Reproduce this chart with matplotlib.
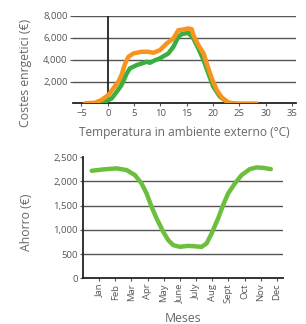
#!/usr/bin/env python
# -*- coding: utf-8 -*-

# Energy cost vs outdoor temperature, and monthly savings

import matplotlib
matplotlib.use('Agg')
import matplotlib.pyplot as plt

plt.rcParams['font.family'] = ['Open Sans', 'DejaVu Sans']

# -----------------------------------------------------------------------------------------------------
# Data
# -----------------------------------------------------------------------------------------------------

# top chart: costs vs temperature
temp_orange = [-4.3, -2.4, -1.2, 0.1, 1.05, 2.0, 2.6, 3.3, 3.9, 4.85, 6.4, 7.7, 8.65, 9.9, 11.2,
               12.45, 13.4, 14.35, 15.3, 15.95, 16.25, 17.2, 18.2, 18.8, 19.75, 20.7, 21.65,
               22.9, 24.2, 26.0, 28.2]
cost_orange = [20, 70, 320, 770, 1380, 1980, 2590, 3650, 4250, 4560, 4710, 4710, 4620, 4860, 5470,
               5930, 6680, 6740, 6840, 6760, 6230, 5320, 4560, 3650, 2290, 1230, 560,
               70, 0, 0, 0]

temp_green = [-2.0, -0.5, 0.75, 1.7, 2.6, 3.6, 4.2, 5.5, 7.4, 8.0, 9.0, 9.9, 11.5, 12.45, 13.4,
              14.05, 15.3, 16.25, 17.2, 18.2, 19.1, 20.05, 21.3, 22.9, 24.2]
cost_green = [0, 160, 470, 1070, 1680, 2740, 3200, 3500, 3800, 3710, 3950, 4110, 4560, 5160, 6070,
              6320, 6440, 5930, 5020, 3950, 2740, 1530, 620, 60, 0]

temp_ticks = [-5, 0, 5, 10, 15, 20, 25, 30, 35]
cost_ticks = [2000, 4000, 6000, 8000]

# bottom chart: savings per month (x in month index, Jan = 0)
months = ['Jan', 'Feb', 'Mar', 'Apr', 'May', 'June', 'July', 'Aug', 'Sept', 'Oct', 'Nov', 'Dec']
month_pos = [-0.45, 0.27, 1.09, 1.71, 2.22, 2.63, 2.94, 3.25, 3.56, 3.97, 4.28, 4.59, 5.0, 5.51,
             5.82, 6.34, 6.65, 6.96, 7.36, 7.67, 7.98, 8.40, 8.81, 9.32, 9.73, 10.14, 10.62]
saving = [2221, 2250, 2271, 2236, 2132, 1960, 1753, 1476, 1236, 958, 787, 683, 648, 669,
          662, 648, 718, 925, 1236, 1511, 1753, 1960, 2132, 2256, 2291, 2283, 2256]
saving_ticks = [0, 500, 1000, 1500, 2000, 2500]

orange = '#f7941e'
green_top = '#3aae3f'
green_bot = '#6cbf3c'
text_col = '#666666'

fig = plt.figure(figsize=(3.06, 3.24), dpi=100)

# -----------------------------------------------------------------------------------------------------
# Top chart
# -----------------------------------------------------------------------------------------------------

ax = fig.add_axes([0.2395, 0.6806, 0.7268, 0.271])
ax.set_xlim(-6.56, 35.7)
ax.set_ylim(0, 8000)
for y in cost_ticks:
    ax.axhline(y, color='#555555', lw=1, zorder=1)
ax.axvline(0, color='#222222', lw=1.3, zorder=1)
ax.plot(temp_green, cost_green, color=green_top, lw=3.2, solid_capstyle='round', zorder=3)
ax.plot(temp_orange, cost_orange, color=orange, lw=3.2, solid_capstyle='round', zorder=4)
for s in ['left', 'right', 'top']:
    ax.spines[s].set_visible(False)
ax.spines['bottom'].set_color('#222222')
ax.spines['bottom'].set_linewidth(1.3)
ax.set_xticks(temp_ticks)
ax.set_yticks(cost_ticks)
ax.set_yticklabels(['{:,}'.format(v) for v in cost_ticks])
ax.tick_params(axis='both', labelsize=6.8, colors='#555555', length=2, width=0.8, pad=2)
ax.set_xlabel('Temperatura in ambiente externo (°C)', fontsize=8.6, color=text_col, labelpad=6)
ax.set_ylabel('Costes enrgetici (€)', fontsize=8.8, color=text_col, labelpad=4)
ax.yaxis.set_label_coords(-0.185, 0.35)

# -----------------------------------------------------------------------------------------------------
# Bottom chart
# -----------------------------------------------------------------------------------------------------

ax2 = fig.add_axes([0.2722, 0.1414, 0.6526, 0.3731])
ax2.set_xlim(-0.97, 11.37)
ax2.set_ylim(0, 2500)
for y in saving_ticks[1:-1]:
    ax2.axhline(y, color='#555555', lw=1, zorder=1)
ax2.plot(month_pos, saving, color=green_bot, lw=3.2, solid_capstyle='round', zorder=3)
for s in ['right', 'top']:
    ax2.spines[s].set_visible(False)
for s in ['left', 'bottom']:
    ax2.spines[s].set_color('#222222')
    ax2.spines[s].set_linewidth(1.3)
ax2.set_xticks(range(len(months)))
ax2.set_xticklabels(months, rotation=90)
ax2.set_yticks(saving_ticks)
ax2.set_yticklabels(['{:,}'.format(v) for v in saving_ticks])
ax2.tick_params(axis='both', labelsize=6.8, colors='#555555', length=2, width=0.8, pad=2)
ax2.set_xlabel('Meses', fontsize=8.8, color=text_col, labelpad=6)
ax2.set_ylabel('Ahorro (€)', fontsize=8.8, color=text_col)
ax2.yaxis.set_label_coords(-0.25, 0.46)

fig.savefig('out.png', dpi=100)
